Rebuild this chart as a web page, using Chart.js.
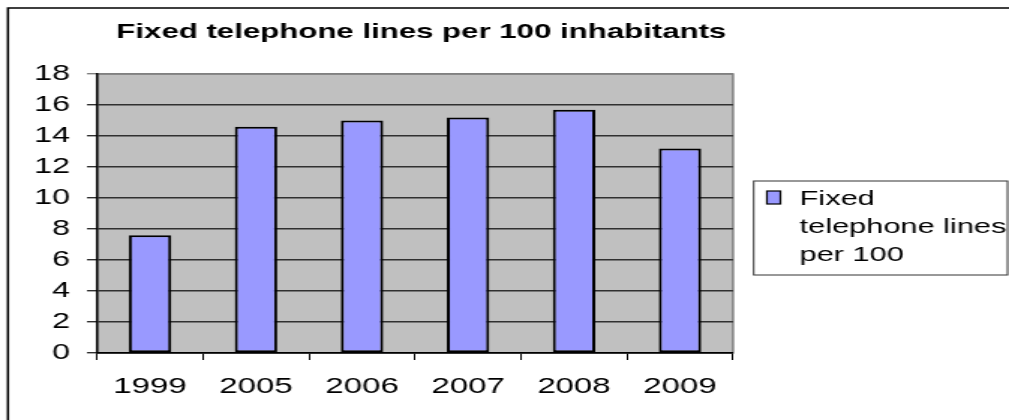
<!DOCTYPE html>
<html>
<head>
<meta charset="utf-8">
<script src="https://cdn.jsdelivr.net/npm/chart.js@4.4.1/dist/chart.umd.min.js"></script>
<style>
  html, body { margin: 0; padding: 0; background: #fff; overflow: hidden; }
  /* the reference picture is stretched sideways, so draw narrow and widen */
  #wrap { width: 673px; height: 420px; transform: scaleX(1.4993); transform-origin: 0 0; }
</style>
</head>
<body>
<div id="wrap"><canvas id="phoneChart"></canvas></div>
<script>
// ----------------- Data -----------------
const years = ['1999', '2005', '2006', '2007', '2008', '2009'];
const linesPer100 = [7.6, 14.6, 15.0, 15.2, 15.7, 13.2];
const seriesName = 'Fixed telephone lines per 100 inhabitants';
const chartTitle = 'Fixed telephone lines per 100 inhabitants';
const yMin = 0;
const yMax = 18;
const yStep = 2;

const FONT = '"Liberation Sans", Arial, sans-serif';
Chart.defaults.font.family = FONT;
Chart.defaults.font.size = 21;
Chart.defaults.color = '#000';

// ----------------- Frame, title, legend -----------------
const framePlugin = {
  id: 'frame',
  beforeDraw(chart) {
    const { ctx, chartArea: a } = chart;
    ctx.save();
    ctx.fillStyle = '#fff';
    ctx.fillRect(0, 0, chart.width, chart.height);
    // outer border (runs off the right and bottom edges)
    ctx.strokeStyle = '#000';
    ctx.lineWidth = 1.5;
    ctx.strokeRect(5.3, 8, chart.width + 20, chart.height + 20);
    // plot area
    ctx.fillStyle = '#c0c0c0';
    ctx.fillRect(a.left, a.top, a.right - a.left, a.bottom - a.top);
    ctx.strokeStyle = '#808080';
    ctx.lineWidth = 1.5;
    ctx.strokeRect(a.left, a.top, a.right - a.left, a.bottom - a.top);
    ctx.restore();
  },
  afterDraw(chart) {
    const ctx = chart.ctx;
    ctx.save();
    // title
    ctx.fillStyle = '#000';
    ctx.font = 'bold 20.8px ' + FONT;
    ctx.textAlign = 'center';
    ctx.textBaseline = 'alphabetic';
    ctx.fillText(chartTitle, 281, 37.5);

    // legend box
    const bx = 502.7, by = 181, bw = 169.3, bh = 94;
    ctx.fillStyle = '#fff';
    ctx.fillRect(bx, by, bw, bh);
    ctx.strokeStyle = '#333';
    ctx.lineWidth = 1;
    ctx.strokeRect(bx, by, bw, bh);

    const ds = chart.data.datasets[0];
    ctx.fillStyle = ds.backgroundColor;
    ctx.fillRect(511.5, 191, 9, 13);
    ctx.strokeStyle = '#000';
    ctx.lineWidth = 1.2;
    ctx.strokeRect(511.5, 191, 9, 13);

    // wrap the label inside the box, cut off at the bottom edge
    ctx.beginPath();
    ctx.rect(bx + 1, by + 1, bw - 2, bh - 1.5);
    ctx.clip();
    ctx.fillStyle = '#000';
    ctx.font = '20.5px ' + FONT;
    ctx.textAlign = 'left';
    const maxW = 138;
    const words = ds.label.split(' ');
    const lines = [];
    let cur = '';
    words.forEach(w => {
      const test = cur ? cur + ' ' + w : w;
      if (ctx.measureText(test).width > maxW && cur) {
        lines.push(cur);
        cur = w;
      } else {
        cur = test;
      }
    });
    if (cur) lines.push(cur);
    lines.forEach((line, i) => {
      ctx.fillText(line, 533.3, 205 + i * 28.2);
    });
    ctx.restore();
  }
};

// ----------------- Chart Setup -----------------
const ctx = document.getElementById('phoneChart').getContext('2d');
const phoneChart = new Chart(ctx, {
  type: 'bar',
  data: {
    labels: years,
    datasets: [{
      label: seriesName,
      data: linesPer100,
      backgroundColor: '#9999ff',
      borderColor: '#000',
      borderWidth: 2,
      borderSkipped: false,
      categoryPercentage: 1,
      barPercentage: 0.4
    }]
  },
  options: {
    responsive: true,
    maintainAspectRatio: false,
    animation: false,
    events: [],
    layout: { padding: { top: 74, right: 184.1, bottom: 0, left: 0 } },
    plugins: {
      legend: { display: false },
      title: { display: false },
      tooltip: { enabled: false }
    },
    scales: {
      x: {
        afterFit(scale) { scale.height = 67; },
        grid: {
          offset: true,
          drawOnChartArea: false,
          tickLength: 7,
          color: '#000',
          lineWidth: 1
        },
        border: { color: '#000', width: 1.5 },
        ticks: { padding: 14, font: { size: 22 }, maxRotation: 0 }
      },
      y: {
        min: yMin,
        max: yMax,
        afterFit(scale) { scale.width = 64.7; },
        grid: {
          tickLength: 6.7,
          lineWidth: 1.4,
          color: (c) => (c.tick && c.tick.value === yMax ? '#808080' : '#303030')
        },
        border: { color: '#000', width: 1.5 },
        ticks: { stepSize: yStep, padding: 11.3, font: { size: 21.5 } }
      }
    }
  },
  plugins: [framePlugin]
});
</script>
</body>
</html>
